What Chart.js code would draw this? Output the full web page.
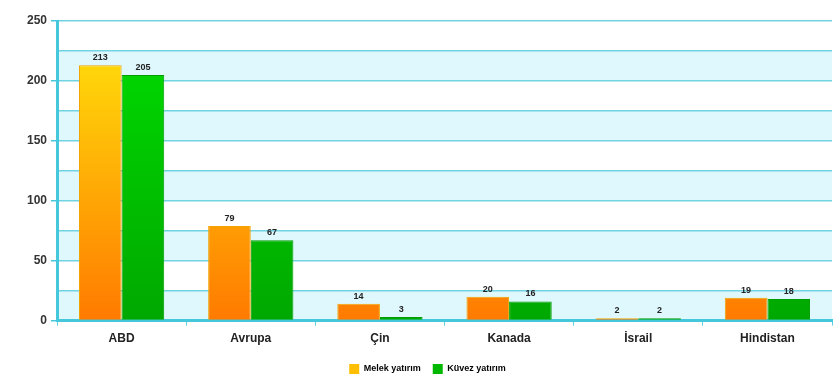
<!DOCTYPE html>
<html>
<head>
<meta charset="utf-8">
<script src="https://cdn.jsdelivr.net/npm/chart.js@4/dist/chart.umd.min.js"></script>
<style>
  html, body { margin: 0; padding: 0; background: #ffffff; }
  #wrap { width: 836px; height: 387px; }
</style>
</head>
<body>
<div id="wrap"><canvas id="myChart" width="836" height="387"></canvas></div>
<script>
// data
let kategoriler = ['ABD', 'Avrupa', 'Çin', 'Kanada', 'İsrail', 'Hindistan'];
let melek = [213, 79, 14, 20, 2, 19];
let kuvez = [205, 67, 3, 16, 2, 18];
let seriAdlari = ['Melek yatırım', 'Küvez yatırım'];
let yTicks = [0, 50, 100, 150, 200, 250];

function barGradient(ctx, top, bottom) {
    let chart = ctx.chart;
    let area = chart.chartArea;
    if (!area) return top;
    let g = chart.ctx.createLinearGradient(0, area.top + 40, 0, area.bottom);
    g.addColorStop(0, top);
    g.addColorStop(1, bottom);
    return g;
}

// light cyan stripes between every other gridline
const bands = {
    id: 'bands',
    beforeDraw(chart) {
        let y = chart.scales.y, a = chart.chartArea, c = chart.ctx;
        c.save();
        c.fillStyle = 'rgba(200, 244, 252, 0.6)';
        for (let v = 0; v < 250; v += 50) {
            let y1 = y.getPixelForValue(v + 25), y0 = y.getPixelForValue(v);
            c.fillRect(a.left, y1, a.right - a.left, y0 - y1);
        }
        c.restore();
    }
};

// value labels on top of bars
const degerler = {
    id: 'degerler',
    afterDatasetsDraw(chart) {
        let c = chart.ctx;
        c.save();
        c.font = 'bold 9px "Liberation Sans", Arial, sans-serif';
        c.fillStyle = '#222';
        c.textAlign = 'center';
        c.textBaseline = 'bottom';
        chart.data.datasets.forEach(function(ds, i){
            chart.getDatasetMeta(i).data.forEach(function(bar, j){
                c.fillText(ds.data[j], bar.x, bar.y - 3);
            });
        });
        c.restore();
    }
};

let ctx = document.getElementById('myChart');
let myChart = new Chart(ctx, {
    type: 'bar',
    data: {
        labels: kategoriler,
        datasets: [{
            label: seriAdlari[0],
            data: melek,
            backgroundColor: function(c){ return barGradient(c, '#ffd80a', '#ff7a00'); },
            borderColor: '#f2a400',
            borderWidth: 1,
            categoryPercentage: 0.66,
            barPercentage: 1
        }, {
            label: seriAdlari[1],
            data: kuvez,
            backgroundColor: function(c){ return barGradient(c, '#00d600', '#00a800'); },
            borderColor: '#009c00',
            borderWidth: 1,
            categoryPercentage: 0.66,
            barPercentage: 1
        }]
    },
    options: {
        responsive: false,
        animation: false,
        layout: { padding: { left: 23, right: 4, top: 21, bottom: 3 } },
        plugins: {
            legend: {
                position: 'bottom',
                labels: {
                    boxWidth: 10,
                    boxHeight: 10,
                    padding: 12,
                    color: '#333',
                    font: { family: '"Liberation Sans", Arial, sans-serif', size: 9, weight: 'bold' },
                    generateLabels: function(chart){
                        return [
                            { text: seriAdlari[0], fillStyle: '#ffbf00', strokeStyle: '#ffbf00', lineWidth: 0, datasetIndex: 0 },
                            { text: seriAdlari[1], fillStyle: '#00b800', strokeStyle: '#00b800', lineWidth: 0, datasetIndex: 1 }
                        ];
                    }
                }
            },
            tooltip: { enabled: false }
        },
        scales: {
            x: {
                grid: { offset: true, drawOnChartArea: false, color: '#5ccfe0', tickLength: 5 },
                border: { color: '#45c8dc', width: 3 },
                ticks: {
                    color: '#222',
                    padding: 6,
                    font: { family: '"Liberation Sans", Arial, sans-serif', size: 12, weight: 'bold' }
                }
            },
            y: {
                min: 0,
                max: 250,
                afterBuildTicks: function(axis){
                    let t = [];
                    for (let v = 0; v <= 250; v += 25) t.push({ value: v });
                    axis.ticks = t;
                },
                grid: {
                    color: '#72d4e2',
                    lineWidth: 1.5,
                    tickLength: 6,
                    tickColor: function(c){ return yTicks.indexOf(c.tick.value) >= 0 ? '#45c8dc' : 'rgba(0,0,0,0)'; }
                },
                border: { color: '#45c8dc', width: 3 },
                ticks: {
                    color: '#333',
                    padding: 4,
                    autoSkip: false,
                    font: { family: '"Liberation Sans", Arial, sans-serif', size: 12, weight: 'bold' },
                    callback: function(v){ return yTicks.indexOf(v) >= 0 ? v : ''; }
                }
            }
        }
    },
    plugins: [bands, degerler]
});
</script>
</body>
</html>
